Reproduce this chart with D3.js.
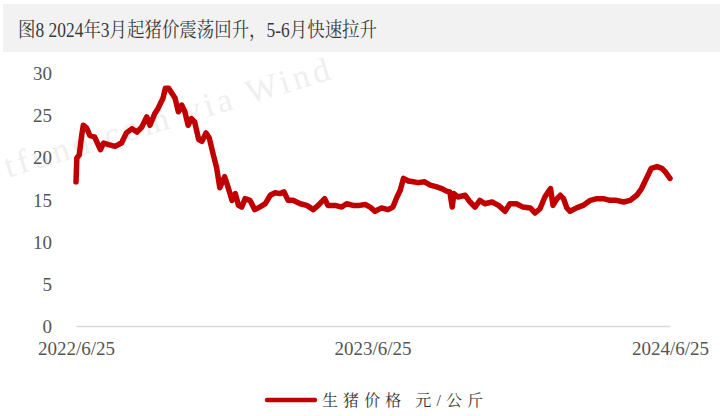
<!DOCTYPE html>
<html><head><meta charset="utf-8">
<script src="https://cdn.jsdelivr.net/npm/d3@7"></script>
<style>
body{margin:0;background:#fff;}
svg{display:block;}
</style></head>
<body><svg id="c" width="725" height="416"></svg>
<script>
const title = "图8 2024年3月起猪价震荡回升，5-6月快速拉升";
const seriesName = "生猪价格 元/公斤";
const yTicks = [0,5,10,15,20,25,30];
const xTickLabels = ["2022/6/25","2023/6/25","2024/6/25"];
const dates = ["2022-06-25","2022-06-26","2022-06-29","2022-07-02","2022-07-04","2022-07-08","2022-07-12","2022-07-18","2022-07-25","2022-07-29",
"2022-08-04","2022-08-12","2022-08-20","2022-08-26","2022-09-02","2022-09-08","2022-09-14","2022-09-20","2022-09-24","2022-09-30",
"2022-10-04","2022-10-10","2022-10-13","2022-10-17","2022-10-21","2022-10-25","2022-10-29","2022-11-02","2022-11-06","2022-11-10",
"2022-11-14","2022-11-18","2022-11-23","2022-11-27","2022-12-02","2022-12-06","2022-12-11","2022-12-15","2022-12-19","2022-12-25",
"2022-12-29","2023-01-03","2023-01-07","2023-01-11","2023-01-15","2023-01-19","2023-01-25","2023-01-31","2023-02-06","2023-02-13",
"2023-02-19","2023-02-25","2023-03-03","2023-03-08","2023-03-13","2023-03-19","2023-03-28","2023-04-05","2023-04-13","2023-04-19",
"2023-04-27","2023-05-01","2023-05-10","2023-05-18","2023-05-24","2023-06-01","2023-06-09","2023-06-16","2023-06-22","2023-06-28",
"2023-07-06","2023-07-14","2023-07-20","2023-07-25","2023-07-29","2023-08-02","2023-08-08","2023-08-14","2023-08-20","2023-08-28",
"2023-09-04","2023-09-12","2023-09-18","2023-09-24","2023-09-28","2023-10-01","2023-10-03","2023-10-08","2023-10-17","2023-10-23",
"2023-10-29","2023-11-04","2023-11-10","2023-11-19","2023-11-27","2023-12-05","2023-12-11","2023-12-19","2023-12-27","2024-01-05",
"2024-01-11","2024-01-17","2024-01-23","2024-01-27","2024-01-30","2024-02-02","2024-02-07","2024-02-11","2024-02-15","2024-02-19",
"2024-02-23","2024-03-02","2024-03-10","2024-03-19","2024-03-27","2024-04-04","2024-04-12","2024-04-20","2024-04-29","2024-05-07",
"2024-05-15","2024-05-21","2024-05-25","2024-05-29","2024-06-02","2024-06-09","2024-06-15","2024-06-19","2024-06-25"];
const prices = [17.1,19.9,20.3,22.6,23.8,23.5,22.6,22.4,20.9,21.7,
21.5,21.3,21.7,22.9,23.4,23.0,23.6,24.8,23.8,25.2,
25.8,27.0,28.2,28.2,27.6,27.0,25.4,26.2,25.4,23.8,
24.6,24.2,22.1,21.9,22.9,22.3,20.3,18.8,16.4,17.7,
16.5,14.9,15.7,14.3,14.1,15.1,14.9,13.8,14.1,14.5,
15.5,15.8,15.7,15.9,14.9,14.9,14.5,14.3,13.8,14.3,
15.1,14.3,14.3,14.1,14.5,14.3,14.3,14.4,14.1,13.6,
14.0,13.8,14.1,15.3,16.1,17.5,17.2,17.1,17.0,17.1,
16.7,16.5,16.3,16.0,15.9,14.1,15.7,15.3,15.5,14.7,
14.1,14.9,14.5,14.7,14.3,13.6,14.5,14.5,14.1,14.0,
13.4,13.9,15.3,15.9,16.3,14.3,15.1,15.5,15.1,14.0,
13.6,14.0,14.3,14.9,15.1,15.1,14.9,14.9,14.7,14.9,
15.5,16.3,17.1,17.9,18.7,18.9,18.7,18.3,17.5];

const parse = d3.timeParse("%Y-%m-%d");
const data = dates.map((d,i)=>({date:parse(d), v:prices[i]}));
const tickDates = xTickLabels.map(s=>d3.timeParse("%Y/%m/%d")(s));

const svg = d3.select("#c");
const serif = "'Liberation Serif','Times New Roman','Noto Sans CJK SC',serif";
const cjk = "'Liberation Serif','Noto Serif CJK SC','Noto Sans CJK SC',serif";

// title band
svg.append("rect").attr("x",3).attr("y",4).attr("width",717).attr("height",48).attr("fill","#f2f2f2");
svg.append("text").attr("x",18).attr("y",37).attr("font-family",cjk).attr("font-size",20)
  .attr("textLength",359).attr("lengthAdjust","spacingAndGlyphs")
  .attr("fill","#3a3a3a").text(title);

// watermark
svg.append("text").attr("transform","translate(8,178) rotate(-17)")
  .attr("font-family",serif).attr("font-size",34).attr("fill","#efefef")
  .attr("letter-spacing",4).text("tfund.com via Wind");

const x = d3.scaleTime().domain([tickDates[0], tickDates[2]]).range([76,670]);
const y = d3.scaleLinear().domain([0,30]).range([326,73]);

// y axis labels
const yAxis = d3.axisLeft(y).tickValues(yTicks).tickSize(0).tickPadding(0);
const gy = svg.append("g").attr("transform","translate(52,0)").call(yAxis);
gy.select(".domain").remove();
gy.selectAll("text").attr("font-family",serif).attr("font-size",19).attr("fill","#555")
  .attr("dy","0.35em");

// x axis
const xAxis = d3.axisBottom(x).tickValues(tickDates).tickSize(0).tickPadding(16)
  .tickFormat((d,i)=>xTickLabels[i]);
const gx = svg.append("g").attr("transform","translate(0,326)").call(xAxis);
gx.select(".domain").attr("stroke","#d9d9d9").attr("stroke-width",1.5);
gx.selectAll("text").attr("font-family",serif).attr("font-size",19).attr("fill","#555");

// line
const line = d3.line().x(d=>x(d.date)).y(d=>y(d.v)).curve(d3.curveLinear);
svg.append("path").datum(data).attr("d",line).attr("fill","none")
  .attr("stroke","#c00000").attr("stroke-width",5.5)
  .attr("stroke-linejoin","round").attr("stroke-linecap","round");

// legend
svg.append("line").attr("x1",267).attr("x2",315).attr("y1",400).attr("y2",400)
  .attr("stroke","#c00000").attr("stroke-width",4.5).attr("stroke-linecap","round");
svg.append("text").attr("x",322).attr("y",406).attr("font-family",cjk).attr("font-size",16)
  .attr("textLength",161).attr("lengthAdjust","spacing")
  .attr("fill","#333").text(seriesName);
</script></body></html>
